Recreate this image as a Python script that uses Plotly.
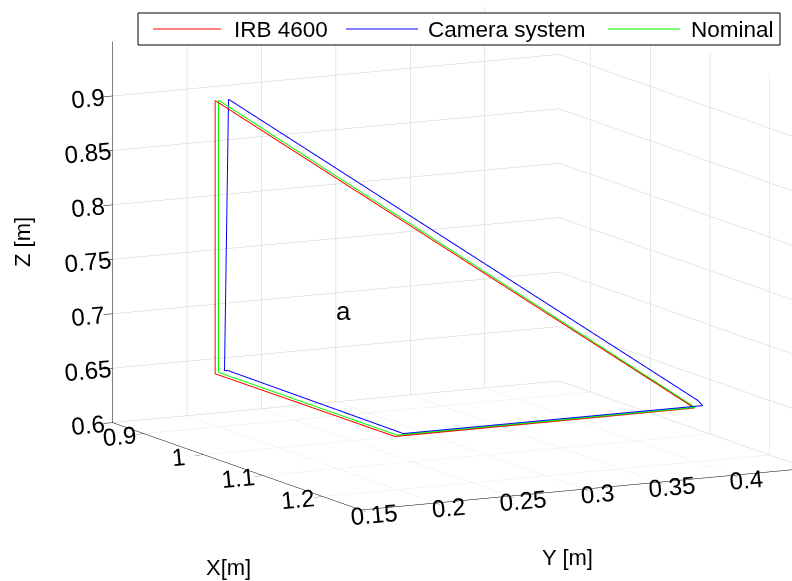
import plotly.graph_objects as go

# Axis limits and ticks
x_range = [0.847, 1.264]
y_range = [0.15, 0.45]
z_range = [0.6, 0.95]
x_ticks = [0.9, 1.0, 1.1, 1.2]
x_ticktext = ["0.9", "1", "1.1", "1.2"]
y_ticks = [0.15, 0.2, 0.25, 0.3, 0.35, 0.4]
y_ticktext = ["0.15", "0.2", "0.25", "0.3", "0.35", "0.4"]
z_ticks = [0.6, 0.65, 0.7, 0.75, 0.8, 0.85, 0.9]
z_ticktext = ["0.6", "0.65", "0.7", "0.75", "0.8", "0.85", "0.9"]

# Robot path (IRB 4600)
irb_x = [0.9, 0.9, 1.2, 1.2, 0.9]
irb_y = [0.1977, 0.1977, 0.1985, 0.3995, 0.1977]
irb_z = [0.9, 0.649, 0.649, 0.6495, 0.9]

# Camera system measurement
cam_x = [0.9, 0.9, 0.9, 1.2, 1.2, 1.2, 0.9]
cam_y = [0.2067, 0.204, 0.206, 0.204, 0.405, 0.402, 0.2067]
cam_z = [0.9, 0.651, 0.651, 0.651, 0.651, 0.656, 0.9]

# Nominal path
nom_x = [0.9, 0.9, 1.2, 1.2, 0.9]
nom_y = [0.2, 0.2, 0.2, 0.4, 0.2]
nom_z = [0.9, 0.65, 0.65, 0.65, 0.9]

series = [
    ("IRB 4600", irb_x, irb_y, irb_z, "#ff0000"),
    ("Camera system", cam_x, cam_y, cam_z, "#0000ff"),
    ("Nominal", nom_x, nom_y, nom_z, "#00ff00"),
]

fig = go.Figure()
for name, xs, ys, zs, col in series:
    fig.add_trace(go.Scatter3d(
        x=xs, y=ys, z=zs, mode="lines", name=name,
        line=dict(color=col, width=2), showlegend=False,
    ))

FONT = "Liberation Sans, Arial, sans-serif"


def axis(rng, vals, text, size, **extra):
    ax = dict(
        range=rng, tickvals=vals, ticktext=text, title=dict(text=""),
        showbackground=False, showgrid=True, gridcolor="#cfcfcf", gridwidth=1,
        showline=True, linecolor="black", linewidth=1,
        ticks="outside", tickcolor="black", ticklen=10,
        zeroline=False, showspikes=False,
        tickfont=dict(family=FONT, size=size, color="black"),
        autorange=False,
    )
    ax.update(extra)
    return ax


# camera: orthographic view, azimuth about -27 deg, elevation about 10.4 deg
view_dir = (0.8744, -0.4503, 0.1811)
dist = 3.0
cen = (-0.0814, -0.2063, -0.1204)
eye = dict(x=cen[0] + view_dir[0] * dist,
           y=cen[1] + view_dir[1] * dist,
           z=cen[2] + view_dir[2] * dist)
zoom = 1.868

fig.update_layout(
    width=792, height=581,
    margin=dict(l=0, r=0, t=0, b=0),
    paper_bgcolor="white",
    font=dict(family=FONT, size=22, color="black"),
    scene=dict(
        domain=dict(x=[0, 1], y=[0, 1]),
        xaxis=axis(x_range, x_ticks, x_ticktext, 17),
        yaxis=axis(y_range, y_ticks, y_ticktext, 17, tickangle=-5),
        zaxis=axis(z_range, z_ticks, z_ticktext, 17),
        aspectmode="manual",
        aspectratio=dict(x=1.0 * zoom, y=0.926 * zoom, z=0.714 * zoom),
        camera=dict(
            projection=dict(type="orthographic"),
            up=dict(x=0, y=0, z=1),
            center=dict(x=cen[0], y=cen[1], z=cen[2]),
            eye=eye,
        ),
        bgcolor="white",
    ),
)

# Legend box drawn in paper coordinates
W, H = 792.0, 581.0


def px(x):
    return x / W


def py(y):
    return 1 - y / H


shapes = [dict(type="rect", xref="paper", yref="paper",
               x0=px(138), x1=px(780), y0=py(45), y1=py(13),
               line=dict(color="black", width=1), fillcolor="white")]
legend_items = [("IRB 4600", "#ff0000", 153, 221, 232),
                ("Camera system", "#0000ff", 346, 418, 426),
                ("Nominal", "#00ff00", 608, 680, 689)]
annotations = []
for name, col, l0, l1, tx in legend_items:
    shapes.append(dict(type="line", xref="paper", yref="paper",
                       x0=px(l0), x1=px(l1), y0=py(29), y1=py(29),
                       line=dict(color=col, width=1)))
    annotations.append(dict(text=name, xref="paper", yref="paper",
                            x=px(tx), y=py(29), xanchor="left", yanchor="middle",
                            showarrow=False, font=dict(family=FONT, size=22.5)))


def label(text, x, y, size=22, angle=0):
    return dict(text=text, xref="paper", yref="paper", x=px(x), y=py(y),
                xanchor="center", yanchor="middle", textangle=angle,
                showarrow=False, font=dict(family=FONT, size=size))


annotations += [
    label("Z [m]", 22, 242, angle=-90),
    label("X[m]", 228, 567),
    label("Y [m]", 567, 557),
    label("a", 343, 311, size=26),
]
fig.update_layout(shapes=shapes, annotations=annotations)

fig.write_html("out.html")
